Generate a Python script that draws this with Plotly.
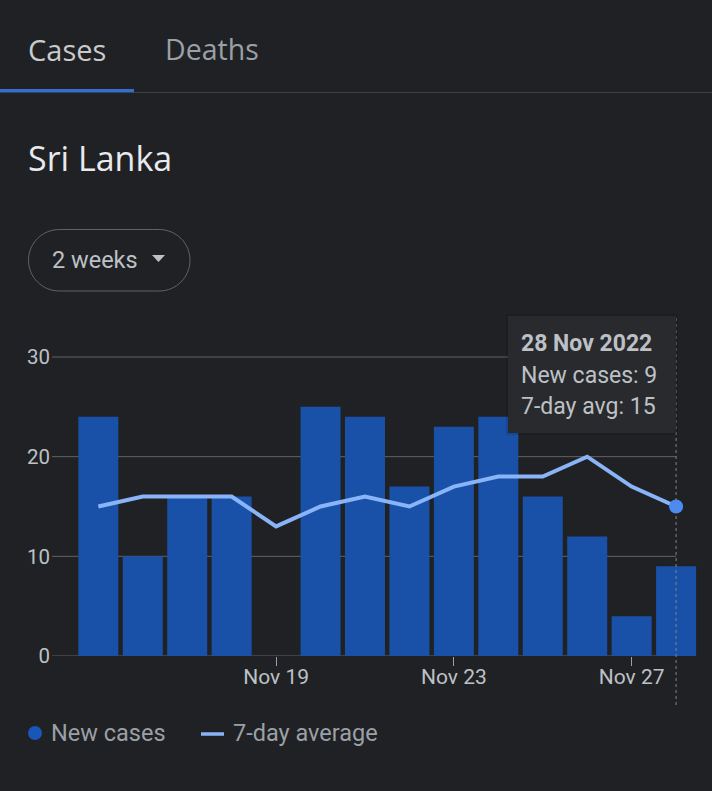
import plotly.graph_objects as go
import pandas as pd

# ---- data ----
dates = ["2022-11-15", "2022-11-16", "2022-11-17", "2022-11-18", "2022-11-19",
         "2022-11-20", "2022-11-21", "2022-11-22", "2022-11-23", "2022-11-24",
         "2022-11-25", "2022-11-26", "2022-11-27", "2022-11-28"]
new_cases = [24, 10, 16, 16, 0, 25, 24, 17, 23, 24, 16, 12, 4, 9]
avg_7day = [15, 16, 16, 16, 13, 15, 16, 15, 17, 18, 18, 20, 17, 15]
y_ticks = [0, 10, 20, 30]
x_tick_dates = ["2022-11-19", "2022-11-23", "2022-11-27"]

W, H = 712, 791
BG = "#202124"
BAR = "#1a51a8"
LINE = "#8ab4f8"
DOT = "#4a8af4"
GRID = "#5f6368"
TXT = "#bdc1c6"
TXT2 = "#9aa0a6"

# plot area in pixels
PL, PR, PT, PB = 52, 712, 340, 656
DAY_PX = 44.42
first = pd.Timestamp(dates[0])
last = pd.Timestamp(dates[-1])
x_start = first - pd.Timedelta(days=(98.3 - PL) / DAY_PX)
x_end = last + pd.Timedelta(days=(PR - 676.1) / DAY_PX)
y_top = (PB - PT) / ((PB - 357) / 30.0)


def px(x):
    return (x - PL) / (PR - PL)


def py(y):
    return (PB - y) / (PB - PT)


fig = go.Figure()
fig.add_trace(go.Bar(x=dates, y=new_cases, marker=dict(color=BAR, line=dict(width=0)),
                     hoverinfo="skip", name="New cases"))
fig.add_trace(go.Scatter(x=dates, y=avg_7day, mode="lines",
                         line=dict(color=LINE, width=4), hoverinfo="skip", name="7-day average"))
fig.add_trace(go.Scatter(x=[dates[-1]], y=[avg_7day[-1]], mode="markers",
                         marker=dict(color=DOT, size=14), hoverinfo="skip", showlegend=False))

shapes = []
# gridlines
for v in y_ticks[1:]:
    shapes.append(dict(type="line", xref="x", yref="y", x0=x_start, x1=last, y0=v, y1=v,
                       line=dict(color=GRID, width=1), layer="below"))
shapes.append(dict(type="line", xref="x", yref="y",
                   x0=x_start - pd.Timedelta(days=12 / DAY_PX),
                   x1=last + pd.Timedelta(days=0.45), y0=0, y1=0,
                   line=dict(color=GRID, width=1), layer="below"))
# tooltip rule
shapes.append(dict(type="line", xref="x", yref="paper", x0=last, x1=last,
                   y0=py(705), y1=py(318), line=dict(color="#80868b", width=1, dash="dot"),
                   layer="above"))
# tooltip box (soft shadow + box)
shapes.append(dict(type="rect", xref="paper", yref="paper", x0=px(506), x1=px(678),
                   y0=py(435), y1=py(314), fillcolor="rgba(0,0,0,0.12)", line=dict(width=0),
                   layer="above"))
shapes.append(dict(type="rect", xref="paper", yref="paper", x0=px(508), x1=px(676),
                   y0=py(433), y1=py(316), fillcolor="#292a2d", line=dict(width=0),
                   layer="above"))
# tabs underline
shapes.append(dict(type="rect", xref="paper", yref="paper", x0=px(134), x1=px(712),
                   y0=py(93), y1=py(92), fillcolor="#3c4043", line=dict(width=0)))
shapes.append(dict(type="rect", xref="paper", yref="paper", x0=px(0), x1=px(134),
                   y0=py(92.5), y1=py(89), fillcolor="#3470c9", line=dict(width=0)))


# dropdown pill
def pill(x0, y0, x1, y1):
    r = (y1 - y0) / 2
    k = 0.5523 * r
    pts = []
    pts.append(f"M{px(x0 + r)},{py(y0)}")
    pts.append(f"L{px(x1 - r)},{py(y0)}")
    pts.append(f"C{px(x1 - r + k)},{py(y0)} {px(x1)},{py(y0 + r - k)} {px(x1)},{py(y0 + r)}")
    pts.append(f"C{px(x1)},{py(y0 + r + k)} {px(x1 - r + k)},{py(y1)} {px(x1 - r)},{py(y1)}")
    pts.append(f"L{px(x0 + r)},{py(y1)}")
    pts.append(f"C{px(x0 + r - k)},{py(y1)} {px(x0)},{py(y1 - r + k)} {px(x0)},{py(y1 - r)}")
    pts.append(f"C{px(x0)},{py(y0 + r - k)} {px(x0 + r - k)},{py(y0)} {px(x0 + r)},{py(y0)} Z")
    return " ".join(pts)


shapes.append(dict(type="path", xref="paper", yref="paper", path=pill(28.5, 229.5, 190, 291),
                   line=dict(color="#5f6368", width=1), fillcolor="rgba(0,0,0,0)"))
shapes.append(dict(type="path", xref="paper", yref="paper",
                   path=f"M{px(152)},{py(255)} L{px(165)},{py(255)} L{px(158.5)},{py(262)} Z",
                   line=dict(width=0), fillcolor=TXT))
# legend marks
shapes.append(dict(type="circle", xref="paper", yref="paper", x0=px(28), x1=px(42),
                   y0=py(740), y1=py(726), fillcolor="#1a56b8", line=dict(width=0)))
shapes.append(dict(type="line", xref="paper", yref="paper", x0=px(201), x1=px(224),
                   y0=py(734), y1=py(734), line=dict(color=LINE, width=3.5)))

annotations = []


def text(t, x, y, size, color, anchor="left", weight=None, family="Roboto"):
    f = dict(family=family, size=size, color=color)
    if weight:
        f["weight"] = weight
    annotations.append(dict(text=t, xref="paper", yref="paper", x=px(x), y=py(y),
                            xanchor=anchor, yanchor="middle", showarrow=False, font=f))


text("Cases", 26, 49, 29, "#c8cacd", family="Open Sans", weight=500)
text("Deaths", 163, 49, 28.5, TXT2, family="Open Sans", weight=500)
text("Sri Lanka", 26, 158, 34, "#e8eaed", family="Open Sans")
text("2 weeks", 50, 260, 23.5, TXT)
last_label = f"{last.day} {last.strftime('%b %Y')}"
text(f"<b>{last_label}</b>", 519, 343, 23, TXT)
text(f"New cases: {new_cases[-1]}", 519, 375, 23, TXT)
text(f"7-day avg: {avg_7day[-1]}", 519, 406, 23, TXT)
text("New cases", 49, 733, 23.5, TXT2)
text("7-day average", 231, 733, 23.5, TXT2)

fig.update_layout(
    width=W, height=H,
    margin=dict(l=PL, r=W - PR, t=PT, b=H - PB, pad=0),
    paper_bgcolor=BG, plot_bgcolor=BG,
    showlegend=False, bargap=0.1,
    shapes=shapes, annotations=annotations,
    xaxis=dict(type="date", range=[x_start, x_end], showgrid=False, zeroline=False,
               showline=False, tickvals=x_tick_dates,
               ticktext=[pd.Timestamp(d).strftime("%b ") + str(pd.Timestamp(d).day) for d in x_tick_dates],
               ticks="outside", ticklen=9, tickcolor=TXT2, tickwidth=1, ticklabelstandoff=-7,
               tickfont=dict(family="Roboto", size=21, color=TXT)),
    yaxis=dict(range=[0, y_top], tickvals=y_ticks, showgrid=False, zeroline=False,
               showline=False, ticks="", ticklabelstandoff=1,
               tickfont=dict(family="Roboto", size=20.5, color=TXT)),
    hovermode=False,
)

fig.write_html("out.html", config={"displayModeBar": False})
